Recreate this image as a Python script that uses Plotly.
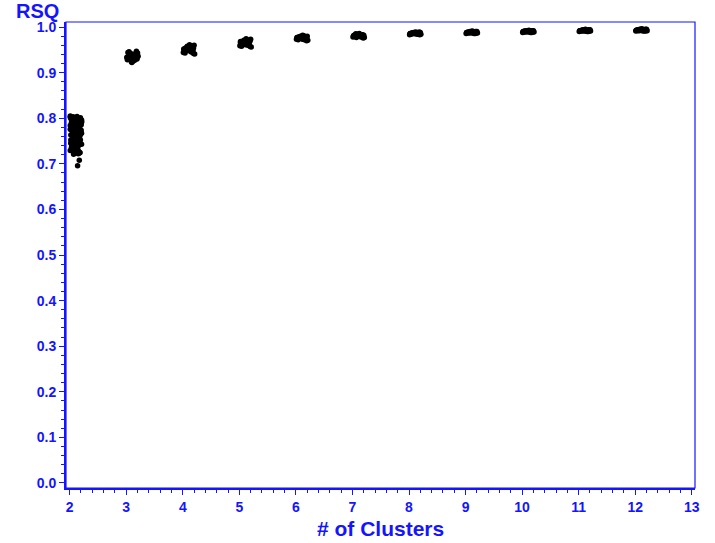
import plotly.graph_objects as go

# Hand-estimated horizontal jitter offsets (fraction of one cluster unit)
jitter = [0.02, 0.15, 0.08, 0.19, 0.05, 0.12, 0.17, 0.03, 0.10, 0.21, 0.06, 0.14, 0.01, 0.18, 0.09, 0.13, 0.04, 0.20, 0.11, 0.07,
          0.16, 0.02, 0.12, 0.19, 0.08, 0.05, 0.15, 0.10, 0.21, 0.03, 0.13, 0.07, 0.18, 0.01, 0.11, 0.16, 0.06, 0.20, 0.09, 0.14,
          0.04, 0.17, 0.12, 0.02, 0.19, 0.08, 0.15, 0.05, 0.10, 0.21, 0.13, 0.03, 0.18, 0.07, 0.11, 0.16, 0.01, 0.14, 0.09, 0.20]

rsq_2 = [0.745, 0.781, 0.762, 0.798, 0.728, 0.771, 0.754, 0.790, 0.736, 0.767, 0.803, 0.749, 0.776, 0.724, 0.759, 0.794, 0.742, 0.785, 0.768, 0.731,
         0.757, 0.800, 0.739, 0.773, 0.751, 0.788, 0.722, 0.764, 0.796, 0.747, 0.779, 0.733, 0.761, 0.805, 0.744, 0.770, 0.755, 0.792, 0.727, 0.766,
         0.783, 0.750, 0.738, 0.775, 0.801, 0.758, 0.730, 0.769, 0.787, 0.743, 0.763, 0.797, 0.725, 0.753, 0.778, 0.740, 0.784, 0.760, 0.734, 0.772,
         0.752, 0.789, 0.726, 0.765, 0.799, 0.741, 0.777, 0.735, 0.761, 0.793, 0.748, 0.782, 0.729, 0.769, 0.756, 0.804, 0.737, 0.774, 0.746, 0.786,
         0.723, 0.763, 0.795, 0.752, 0.780, 0.732, 0.768, 0.758, 0.791, 0.744, 0.777, 0.721, 0.766, 0.802, 0.739, 0.773, 0.750, 0.786, 0.729, 0.760]
outlier_offsets = [0.17, 0.14]
outlier_rsq = [0.708, 0.696]

rsq_3 = [0.934, 0.927, 0.942, 0.930, 0.946, 0.925, 0.938, 0.944, 0.922, 0.936, 0.929, 0.940, 0.933, 0.947, 0.924, 0.939, 0.931, 0.943, 0.926, 0.935, 0.941, 0.928, 0.937, 0.932]
rsq_4 = [0.951, 0.945, 0.958, 0.942, 0.954, 0.961, 0.947, 0.950, 0.956, 0.941, 0.953, 0.959, 0.944, 0.949, 0.957, 0.952, 0.943, 0.960, 0.948, 0.955, 0.946, 0.952, 0.950, 0.954]
rsq_5 = [0.965, 0.960, 0.971, 0.957, 0.968, 0.974, 0.962, 0.966, 0.970, 0.956, 0.964, 0.972, 0.959, 0.967, 0.963, 0.969, 0.958, 0.973, 0.961, 0.966, 0.964, 0.968, 0.962, 0.970]
rsq_6 = [0.976, 0.972, 0.980, 0.970, 0.978, 0.982, 0.974, 0.977, 0.979, 0.971, 0.975, 0.981, 0.973, 0.977, 0.976, 0.979, 0.972, 0.980, 0.974, 0.978, 0.975, 0.977, 0.973, 0.976]
rsq_7 = [0.981, 0.978, 0.984, 0.976, 0.983, 0.986, 0.979, 0.982, 0.980, 0.977, 0.985, 0.981, 0.978, 0.983, 0.980, 0.984, 0.979, 0.982, 0.981, 0.977, 0.983, 0.980, 0.982, 0.979]
rsq_8 = [0.986, 0.984, 0.988, 0.983, 0.987, 0.989, 0.985, 0.986, 0.988, 0.984, 0.987, 0.985, 0.983, 0.989, 0.986, 0.987, 0.984, 0.988, 0.985, 0.986, 0.987, 0.985, 0.986, 0.984]
rsq_9 = [0.988, 0.986, 0.990, 0.987, 0.989, 0.991, 0.986, 0.988, 0.990, 0.987, 0.989, 0.988, 0.986, 0.990, 0.988, 0.989, 0.987, 0.990, 0.988, 0.987, 0.989, 0.988, 0.987, 0.989]
rsq_10 = [0.990, 0.988, 0.992, 0.989, 0.991, 0.993, 0.988, 0.990, 0.992, 0.989, 0.991, 0.990, 0.988, 0.992, 0.990, 0.991, 0.989, 0.992, 0.990, 0.989, 0.991, 0.990, 0.989, 0.991]
rsq_11 = [0.992, 0.990, 0.994, 0.991, 0.993, 0.995, 0.990, 0.992, 0.994, 0.991, 0.993, 0.992, 0.990, 0.994, 0.992, 0.993, 0.991, 0.994, 0.992, 0.991, 0.993, 0.992, 0.991, 0.993]
rsq_12 = [0.993, 0.991, 0.995, 0.992, 0.994, 0.996, 0.991, 0.993, 0.995, 0.992, 0.994, 0.993, 0.991, 0.995, 0.993, 0.994, 0.992, 0.995, 0.993, 0.992, 0.994, 0.993, 0.992, 0.994]

clusters = {2: rsq_2, 3: rsq_3, 4: rsq_4, 5: rsq_5, 6: rsq_6, 7: rsq_7,
            8: rsq_8, 9: rsq_9, 10: rsq_10, 11: rsq_11, 12: rsq_12}

xs, ys = [], []
for k, vals in clusters.items():
    for i, v in enumerate(vals):
        xs.append(k + jitter[i % len(jitter)])
        ys.append(v)
for o, v in zip(outlier_offsets, outlier_rsq):
    xs.append(2 + o)
    ys.append(v)

BLUE = "#1414FF"
FONT = "Liberation Sans, Arial"
fig = go.Figure(go.Scatter(x=xs, y=ys, mode="markers",
                           marker=dict(color="black", size=5.5, line=dict(width=0)),
                           showlegend=False, hoverinfo="skip"))

axis_common = dict(showgrid=False, zeroline=False, showline=True, linecolor=BLUE, linewidth=2,
                   ticks="outside", tickcolor=BLUE, ticklen=5, tickwidth=1,
                   tickfont=dict(family=FONT, size=14, color=BLUE, weight="bold"),
                   mirror=False, automargin=False)

fig.update_xaxes(range=[1.935, 13.057], tickmode="linear", tick0=2, dtick=1,
                 minor=dict(dtick=0.2, ticklen=3, tickcolor=BLUE, ticks="outside"),
                 **axis_common)
fig.update_yaxes(range=[-0.011, 1.011], tickmode="linear", tick0=0, dtick=0.1, tickformat=".1f",
                 minor=dict(dtick=0.02, ticklen=3, tickcolor=BLUE, ticks="outside"),
                 **axis_common)

fig.add_shape(type="rect", xref="paper", yref="paper", x0=0, y0=0, x1=1, y1=1,
              line=dict(color=BLUE, width=1.2), fillcolor="rgba(0,0,0,0)", layer="above")

fig.add_annotation(text="<b>RSQ</b>", xref="paper", yref="paper", x=-0.046, y=1.0,
                   xanchor="center", yanchor="bottom", yshift=-2, showarrow=False,
                   font=dict(family=FONT, size=20, color=BLUE))
fig.add_annotation(text="<b># of Clusters</b>", xref="paper", yref="paper", x=0.5, y=0,
                   xanchor="center", yanchor="top", yshift=-27, showarrow=False,
                   font=dict(family=FONT, size=21, color=BLUE))

fig.update_layout(width=715, height=543, margin=dict(l=66, r=19.5, t=21.7, b=54.7),
                  plot_bgcolor="white", paper_bgcolor="white")

fig.write_html("out.html", config={"displayModeBar": False},
               post_script="document.body.style.margin='0px';")
